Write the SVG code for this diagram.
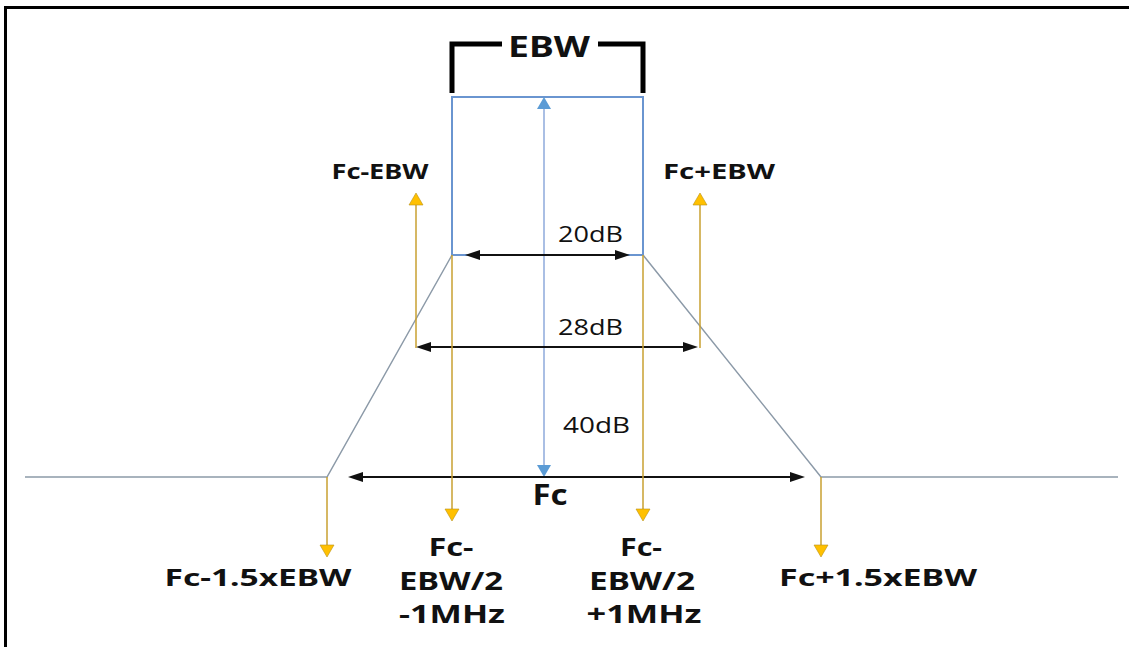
<svg xmlns="http://www.w3.org/2000/svg" width="1129" height="647" viewBox="0 0 1129 647">
<style>
.lbl{font-family:"Noto Sans","Open Sans","DejaVu Sans",sans-serif;font-weight:bold;fill:#111;text-anchor:middle}
.db{font-family:"Open Sans","Noto Sans","DejaVu Sans",sans-serif;font-weight:normal;fill:#111;font-size:21px}
.gray{stroke:#8c9aa8;stroke-width:1.5;fill:none}
.gold{stroke:#c9a030;stroke-width:1.5;fill:none}
.blk{stroke:#111;stroke-width:2;fill:none}
.goldhead{fill:#ffc000;stroke:#b8921a;stroke-width:0.6}
.bluehead{fill:#5b9bd5}
.blkhead{fill:#111}
</style>
<rect width="1129" height="647" fill="#fff"/>
<g id="frame">
<line x1="5.5" y1="6" x2="5.5" y2="647" stroke="#000" stroke-width="3"/>
<line x1="4" y1="7.5" x2="1129" y2="7.5" stroke="#000" stroke-width="3"/>
</g>
<g id="ebw-bracket">
<polyline points="452,93 452,44 502,44" fill="none" stroke="#000" stroke-width="5"/>
<polyline points="598,44 643,44 643,93" fill="none" stroke="#000" stroke-width="5"/>
<text class="lbl" x="549" y="57" font-size="29" textLength="82" lengthAdjust="spacingAndGlyphs">EBW</text>
</g>
<g id="channel-box">
<rect x="452" y="97" width="191" height="158" fill="#ffffff" stroke="#6a95d0" stroke-width="2"/>
</g>
<g id="connectors">
<polyline class="gray" points="25,477 327,477 452,255"/>
<polyline class="gray" points="643,255 821,477 1118,477"/>
<line x1="544" y1="108" x2="544" y2="466" stroke="#8eaadb" stroke-width="1.5"/>
<polygon class="bluehead" points="544,97 537,109 551,109"/>
<polygon class="bluehead" points="544,477 537,465 551,465"/>
<line class="blk" x1="476" y1="255" x2="619" y2="255"/>
<polygon class="blkhead" points="465,255 480,250 480,260"/>
<polygon class="blkhead" points="630,255 615,250 615,260"/>
<line class="blk" x1="427" y1="347" x2="687" y2="347"/>
<polygon class="blkhead" points="416,347 431,342 431,352"/>
<polygon class="blkhead" points="698,347 683,342 683,352"/>
<line class="blk" x1="359" y1="477" x2="794" y2="477"/>
<polygon class="blkhead" points="348,477 363,472 363,482"/>
<polygon class="blkhead" points="805,477 790,472 790,482"/>
<line class="gold" x1="416" y1="348" x2="416" y2="204"/>
<polygon class="goldhead" points="416,193 409,205 423,205"/>
<line class="gold" x1="700" y1="348" x2="700" y2="204"/>
<polygon class="goldhead" points="700,193 693,205 707,205"/>
<line class="gold" x1="452" y1="255" x2="452" y2="510"/>
<polygon class="goldhead" points="452,521 445,509 459,509"/>
<line class="gold" x1="643" y1="255" x2="643" y2="510"/>
<polygon class="goldhead" points="643,521 636,509 650,509"/>
<line class="gold" x1="327" y1="477" x2="327" y2="546"/>
<polygon class="goldhead" points="327,557 320,545 334,545"/>
<line class="gold" x1="821" y1="477" x2="821" y2="546"/>
<polygon class="goldhead" points="821,557 814,545 828,545"/>
</g>
<g id="db-labels">
<text class="db" x="558" y="242" textLength="65" lengthAdjust="spacingAndGlyphs">20dB</text>
<text class="db" x="558" y="335" textLength="65" lengthAdjust="spacingAndGlyphs">28dB</text>
<text class="db" x="563" y="433" textLength="67" lengthAdjust="spacingAndGlyphs">40dB</text>
</g>
<g id="label-fc">
<text class="lbl" x="550" y="505" font-size="28" textLength="35" lengthAdjust="spacingAndGlyphs">Fc</text>
</g>
<g id="label-fc-ebw">
<text class="lbl" x="380" y="179" font-size="22" textLength="97" lengthAdjust="spacingAndGlyphs">Fc-EBW</text>
</g>
<g id="label-fc-plus-ebw">
<text class="lbl" x="719" y="179" font-size="22" textLength="112" lengthAdjust="spacingAndGlyphs">Fc+EBW</text>
</g>
<g id="label-fc-1.5">
<text class="lbl" x="258" y="586" font-size="24" textLength="187" lengthAdjust="spacingAndGlyphs">Fc-1.5xEBW</text>
</g>
<g id="label-fc-plus-1.5">
<text class="lbl" x="878" y="586" font-size="24" textLength="198" lengthAdjust="spacingAndGlyphs">Fc+1.5xEBW</text>
</g>
<g id="label-lower-edge">
<text class="lbl" x="451" y="556" font-size="25" textLength="45" lengthAdjust="spacingAndGlyphs">Fc-</text>
<text class="lbl" x="451" y="590" font-size="25" textLength="104" lengthAdjust="spacingAndGlyphs">EBW/2</text>
<text class="lbl" x="452" y="623" font-size="25" textLength="106" lengthAdjust="spacingAndGlyphs">-1MHz</text>
</g>
<g id="label-upper-edge">
<text class="lbl" x="641" y="556" font-size="25" textLength="42" lengthAdjust="spacingAndGlyphs">Fc-</text>
<text class="lbl" x="642" y="590" font-size="25" textLength="106" lengthAdjust="spacingAndGlyphs">EBW/2</text>
<text class="lbl" x="644" y="623" font-size="25" textLength="115" lengthAdjust="spacingAndGlyphs">+1MHz</text>
</g>
</svg>
